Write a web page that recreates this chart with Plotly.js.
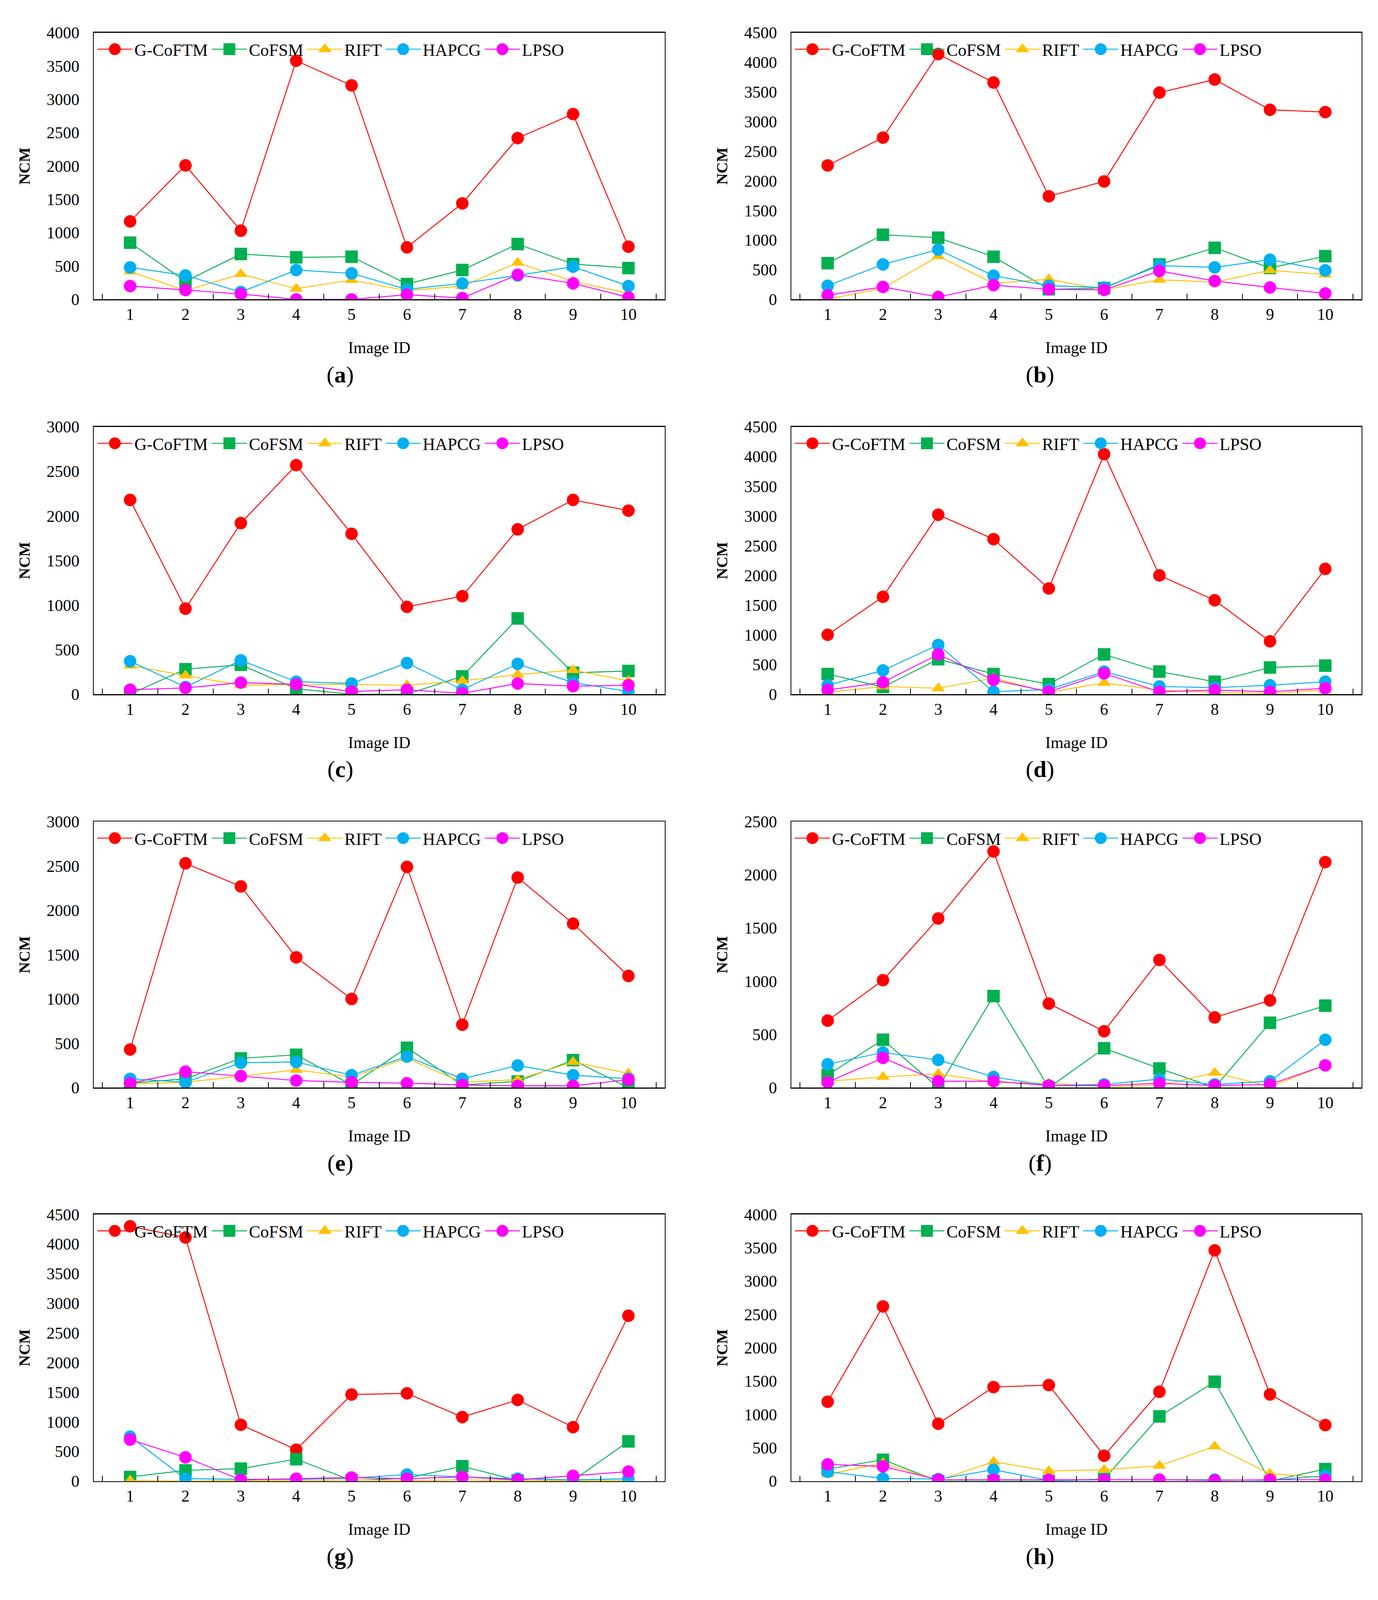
<!DOCTYPE html>
<html>
<head>
<meta charset="utf-8">
<script src="https://cdn.plot.ly/plotly-3.0.1.min.js"></script>
<style>
  html, body { margin: 0; padding: 0; background: #ffffff; overflow: hidden; }
</style>
</head>
<body>
<div id="chart"></div>
<script>
const imageIds = ["1", "2", "3", "4", "5", "6", "7", "8", "9", "10"];
const methods = ["G-CoFTM", "CoFSM", "RIFT", "HAPCG", "LPSO"];
const panelLetters = ["a", "b", "c", "d", "e", "f", "g", "h"];
const yMax = [4000, 4500, 3000, 4500, 3000, 2500, 4500, 4000];
const yTicks = [0, 500, 1000, 1500, 2000, 2500, 3000, 3500, 4000, 4500];

// NCM per panel, one row per method (same order as methods)
const ncmA = [
  [1170, 2010, 1030, 3580, 3210, 780, 1440, 2420, 2780, 790],
  [850, 270, 680, 630, 640, 230, 440, 830, 530, 470],
  [420, 130, 380, 160, 290, 130, 200, 550, 270, 90],
  [480, 360, 110, 440, 390, 150, 240, 360, 490, 200],
  [200, 140, 80, 0, 0, 70, 20, 370, 240, 30],
];
const ncmB = [
  [2260, 2730, 4140, 3660, 1740, 1990, 3490, 3710, 3200, 3160],
  [610, 1090, 1040, 720, 170, 190, 590, 870, 530, 730],
  [0, 190, 730, 270, 340, 160, 330, 290, 490, 420],
  [230, 590, 840, 400, 230, 200, 570, 540, 670, 490],
  [70, 210, 40, 240, 170, 160, 480, 310, 200, 100],
];
const ncmC = [
  [2180, 960, 1920, 2570, 1800, 980, 1100, 1850, 2180, 2060],
  [0, 280, 330, 60, 0, 0, 200, 850, 240, 260],
  [320, 210, 100, 110, 110, 100, 150, 220, 270, 150],
  [370, 80, 380, 140, 120, 350, 50, 340, 130, 30],
  [50, 70, 130, 110, 30, 50, 10, 120, 90, 100],
];
const ncmD = [
  [1000, 1640, 3020, 2610, 1780, 4040, 2000, 1580, 890, 2110],
  [340, 120, 590, 340, 170, 670, 380, 210, 450, 480],
  [30, 130, 100, 270, 30, 190, 70, 30, 10, 70],
  [150, 400, 830, 40, 80, 380, 130, 110, 150, 210],
  [70, 200, 670, 240, 40, 350, 40, 70, 40, 100],
];
const ncmE = [
  [430, 2530, 2270, 1470, 1000, 2490, 710, 2370, 1850, 1260],
  [50, 100, 330, 370, 30, 450, 30, 70, 310, 0],
  [40, 60, 130, 200, 120, 330, 60, 90, 290, 160],
  [100, 60, 280, 290, 140, 350, 100, 250, 140, 100],
  [50, 180, 130, 80, 60, 50, 30, 20, 20, 90],
];
const ncmF = [
  [630, 1010, 1590, 2220, 790, 530, 1200, 660, 820, 2120],
  [120, 450, 0, 860, 0, 370, 180, 0, 610, 770],
  [60, 100, 130, 50, 40, 10, 20, 140, 10, 210],
  [220, 330, 260, 100, 20, 30, 80, 30, 60, 450],
  [50, 280, 60, 60, 20, 20, 40, 20, 30, 210],
];
const ncmG = [
  [4300, 4110, 950, 530, 1460, 1480, 1080, 1370, 910, 2790],
  [70, 180, 210, 370, 10, 50, 250, 10, 10, 670],
  [10, 0, 10, 10, 20, 10, 20, 10, 10, 10],
  [750, 40, 30, 30, 50, 110, 70, 40, 20, 40],
  [700, 400, 20, 40, 60, 40, 70, 20, 90, 160],
];
const ncmH = [
  [1190, 2620, 860, 1410, 1440, 380, 1340, 3460, 1300, 840],
  [180, 320, 0, 0, 0, 30, 970, 1490, 0, 180],
  [100, 270, 10, 290, 150, 170, 230, 520, 110, 50],
  [140, 40, 30, 170, 10, 20, 20, 20, 10, 80],
  [250, 220, 20, 20, 20, 20, 20, 10, 20, 20],
];
const panels = [ncmA, ncmB, ncmC, ncmD, ncmE, ncmF, ncmG, ncmH];

// styles
const lineColors = ["#FF0000", "#00B050", "#FFC000", "#00B0F0", "#FF00FF"];
const markerSymbols = ["circle", "square", "triangle-up", "circle", "circle"];
const FONT = "Liberation Serif, Times New Roman, serif";

// plot areas, in pixels of the 3528x4592 reference
const REF_W = 3528, REF_H = 4592;
const colX = [[240, 1702], [2026, 3486]];
const rowY = [[70, 844], [1214, 1990], [2360, 3132], [3500, 4274]];

// fit the visible window (it can be shorter than the reference)
const W = window.innerWidth || REF_W;
const H = window.innerHeight || REF_H;

const px2x = (p) => p / REF_W;
const px2y = (p) => 1 - p / REF_H;

const traces = [];
const layout = {
  width: W,
  height: H,
  margin: { l: 0, r: 0, t: 0, b: 0 },
  paper_bgcolor: "#ffffff",
  plot_bgcolor: "#ffffff",
  font: { family: FONT, color: "#000000", size: 42 },
  annotations: [],
};

panels.forEach((ncm, i) => {
  const col = i % 2;
  const row = Math.floor(i / 2);
  const n = i === 0 ? "" : String(i + 1);
  const legendKey = "legend" + n;

  methods.forEach((name, k) => {
    traces.push({
      type: "scatter",
      mode: "lines+markers",
      name: name,
      x: imageIds,
      y: ncm[k],
      xaxis: "x" + n,
      yaxis: "y" + n,
      legend: legendKey,
      line: { color: lineColors[k], width: 2.4 },
      marker: { color: lineColors[k], symbol: markerSymbols[k], size: k === 2 ? 30 : 32, line: { width: 0 } },
      hoverinfo: "skip",
    });
  });

  layout["xaxis" + n] = {
    domain: [px2x(colX[col][0]), px2x(colX[col][1])],
    anchor: "y" + n,
    type: "category",
    tickson: "boundaries",
    ticks: "inside",
    ticklen: 14,
    tickwidth: 2,
    tickcolor: "#000000",
    showgrid: false,
    zeroline: false,
    showline: true,
    mirror: true,
    linecolor: "#000000",
    linewidth: 2.4,
    tickfont: { size: 42 },
    title: { text: "Image ID", font: { size: 42 } },
  };
  layout["yaxis" + n] = {
    domain: [px2y(rowY[row][1]), px2y(rowY[row][0])],
    anchor: "x" + n,
    range: [0, yMax[i]],
    tickvals: yTicks.filter((t) => t <= yMax[i]),
    ticks: "",
    ticklabelstandoff: 26,
    showgrid: false,
    zeroline: false,
    showline: true,
    mirror: true,
    linecolor: "#000000",
    linewidth: 2.4,
    tickfont: { size: 42 },
    automargin: true,
    title: { text: "<b>NCM</b>", font: { size: 40 }, standoff: 30 },
  };
  layout[legendKey] = {
    x: px2x(colX[col][0] + 4),
    y: px2y(rowY[row][0] + 8),
    xanchor: "left",
    yanchor: "top",
    orientation: "h",
    bgcolor: "rgba(0,0,0,0)",
    borderwidth: 0,
    font: { size: 44, family: FONT },
    itemwidth: 90,
    tracegroupgap: 0,
  };
  layout.annotations.push({
    xref: "paper",
    yref: "paper",
    x: col === 0 ? 0.2469 : 0.7548,
    y: px2y(rowY[row][1] + 218),
    xanchor: "center",
    yanchor: "middle",
    text: "(<b>" + panelLetters[i] + "</b>)",
    showarrow: false,
    font: { size: 60, family: FONT },
  });
});

Plotly.newPlot("chart", traces, layout, { staticPlot: true, displayModeBar: false }).then((gd) => {
  // the legend caps marker size at 16px; enlarge the legend symbols to match the plot markers
  gd.querySelectorAll(".legendpoints path.scatterpts").forEach((p) => {
    const t = p.getAttribute("transform") || "";
    p.setAttribute("transform", t + " scale(1.9)");
  });
});
</script>
</body>
</html>
